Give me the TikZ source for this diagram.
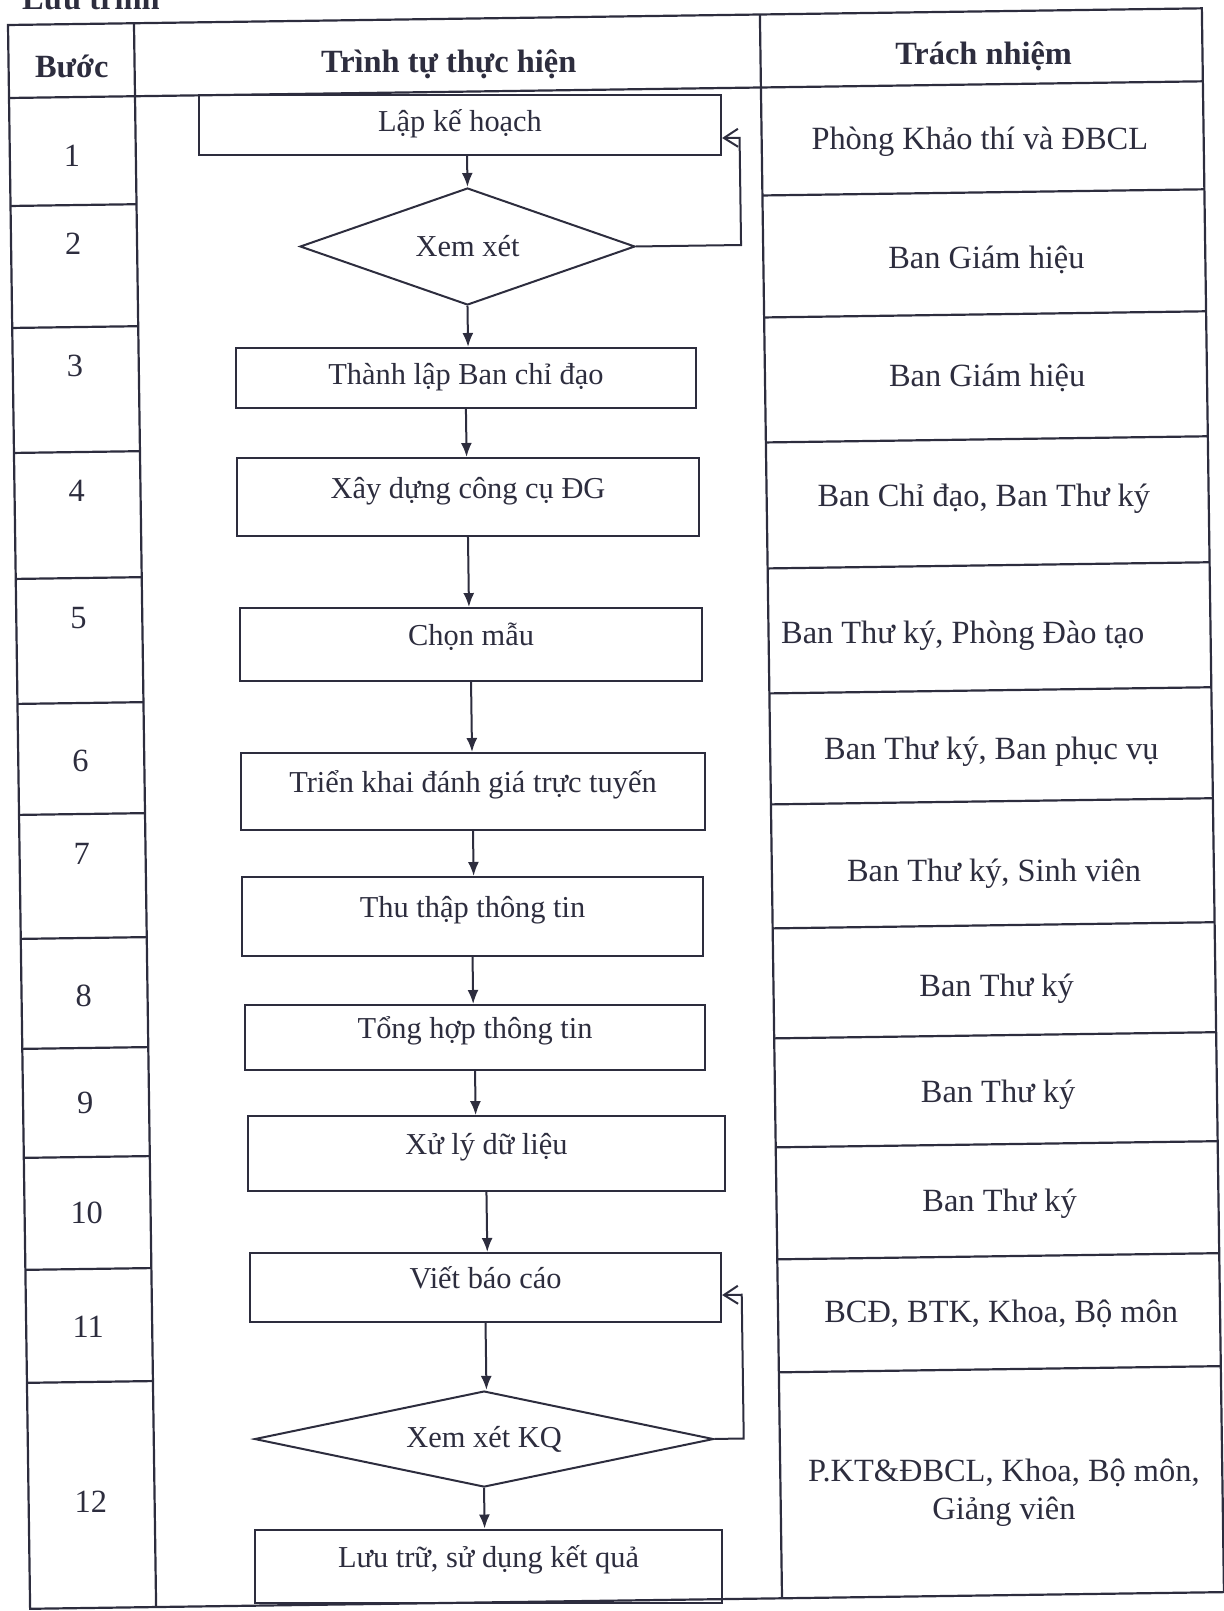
\documentclass[tikz,border=0pt]{standalone}
\usepackage{fontspec}
\setmainfont{Liberation Serif}
\usetikzlibrary{arrows.meta, shapes.geometric}
\definecolor{ink}{RGB}{45,45,62}
\newcommand{\cellfont}{\fontsize{16.2pt}{19pt}\selectfont}
\newcommand{\boxfont}{\fontsize{15.2pt}{18pt}\selectfont}
\tikzset{
  >=latex,
  % Khung bang
  rule/.style={ink, line width=1.1pt},
  head/.style={font=\cellfont\bfseries, text=ink, anchor=base, inner sep=0pt},
  stepno/.style={text=ink, anchor=base, inner sep=0pt},
  duty/.style={text=ink, anchor=base, inner sep=0pt, align=center},
  % Luu do
  box/.style={draw=ink, line width=1pt, rectangle, inner sep=0pt, text=ink, font=\boxfont,
    text height=0.75em, text depth=0.65em},
  box mid/.style={box, text depth=0.09em},
  decision/.style={draw=ink, line width=1pt, diamond, inner sep=0pt, text=ink, font=\boxfont},
  flow/.style={draw=ink, line width=1pt, -{Latex[length=7pt,width=5.5pt]}},
  loopback/.style={draw=ink, line width=1pt, -{Straight Barb[length=7pt,width=9pt]}}
}

\begin{document}
\begin{tikzpicture}[x=0.5pt, y=-0.5pt, font=\cellfont]
  \useasboundingbox (0,0) rectangle (1223,1611);
  \begin{scope}[shift={(8,25)}, rotate=0.8]
    % Tieu de
    \node[head, anchor=base west] (title) at (14,-15) {Lưu trình};
    % Khung bang
    \draw[rule] (0,0) rectangle (1194,1584);
    \draw[rule] (0,73) -- (1194,73);
    \draw[rule] (126,0) -- (126,1584);
    \draw[rule] (752,0) -- (752,1584);
    \foreach \v in {181,303,428,554,679,790,914,1024,1133,1245,1358}{
      \draw[rule] (0,\v) -- (126,\v);
      \draw[rule] (752,\v) -- (1194,\v);
    }
    % Dong tieu de
    \node[head] (hstep) at (63,53) {Bước};
    \node[head] (hflow) at (440,54) {Trình tự thực hiện};
    \node[head] (hduty) at (975,53) {Trách nhiệm};
    % So buoc
    \foreach \n/\b in {1/142,2/230,3/352,4/477,5/604,6/747,7/840,8/982,9/1090,10/1200,11/1314,12/1489}
      \node[stepno] (n\n) at (62,\b) {\n};
    % Trach nhiem
    \node[duty] (d1) at (970,138) {Phòng Khảo thí và ĐBCL};
    \node[duty] (d2) at (975,257) {Ban Giám hiệu};
    \node[duty] (d3) at (974,375) {Ban Giám hiệu};
    \node[duty] (d4) at (969,495) {Ban Chỉ đạo, Ban Thư ký};
    \node[duty] (d5) at (946,632) {Ban Thư ký, Phòng Đào tạo};
    \node[duty] (d6) at (973,748) {Ban Thư ký, Ban phục vụ};
    \node[duty] (d7) at (974,870) {Ban Thư ký, Sinh viên};
    \node[duty] (d8) at (975,985) {Ban Thư ký};
    \node[duty] (d9) at (975,1091) {Ban Thư ký};
    \node[duty] (d10) at (975,1200) {Ban Thư ký};
    \node[duty] (d11) at (975,1311) {BCĐ, BTK, Khoa, Bộ môn};
    \node[duty] (d12) at (975,1508) {P.KT\&ĐBCL, Khoa, Bộ môn,\\Giảng viên};
    % Cac buoc thuc hien
    \node[box mid, minimum width=261pt, minimum height=30pt] (lap) at (450.6,106.3) {Lập kế hoạch};
    \node[decision, aspect=2.86, minimum width=167.5pt, minimum height=58.5pt] (xemxet) at (456.4,227.9) {Xem xét};
    \node[box mid, minimum width=230pt, minimum height=30pt] (thanhlap) at (453,359.4) {Thành lập Ban chỉ đạo};
    \node[box, minimum width=231pt, minimum height=39pt] (xaydung) at (453.4,478.4) {Xây dựng công cụ ĐG};
    \node[box, minimum width=231pt, minimum height=36.5pt] (chonmau) at (454.4,626) {Chọn mẫu};
    \node[box, minimum width=232pt, minimum height=38.5pt] (trienkhai) at (454.3,773) {Triển khai đánh giá trực tuyến};
    \node[box, minimum width=230.5pt, minimum height=39.5pt] (thuthap) at (452.1,898) {Thu thập thông tin};
    \node[box, minimum width=230pt, minimum height=32.5pt] (tonghop) at (452.9,1019) {Tổng hợp thông tin};
    \node[box, minimum width=238.5pt, minimum height=37.5pt] (xuly) at (462.7,1135.2) {Xử lý dữ liệu};
    \node[box, minimum width=235.5pt, minimum height=34.5pt] (vietbc) at (459.9,1269.2) {Viết báo cáo};
    \node[decision, aspect=4.78, minimum width=229.5pt, minimum height=48pt] (xemxetkq) at (456.3,1420.6) {Xem xét KQ};
    \node[box, minimum width=233.5pt, minimum height=36.5pt] (luutru) at (459,1547.7) {Lưu trữ, sử dụng kết quả};
    % Mui ten
    \draw[flow] (lap.south -| xemxet.north) -- (xemxet.north);
    \foreach \a/\b in {xemxet/thanhlap, thanhlap/xaydung, xaydung/chonmau, chonmau/trienkhai,
                       trienkhai/thuthap, thuthap/tonghop, tonghop/xuly, xuly/vietbc,
                       vietbc/xemxetkq, xemxetkq/luutru}
      \draw[flow] (\a.south) -- (\a.south |- \b.north);
    % Vong lap
    \coordinate (k1) at (730,123);
    \draw[loopback] (xemxet.east) -| (k1) -- (k1 -| lap.east);
    \coordinate (k2) at (716,1280);
    \draw[loopback] (xemxetkq.east) -| (k2) -- (k2 -| vietbc.east);
  \end{scope}
\end{tikzpicture}
\end{document}
